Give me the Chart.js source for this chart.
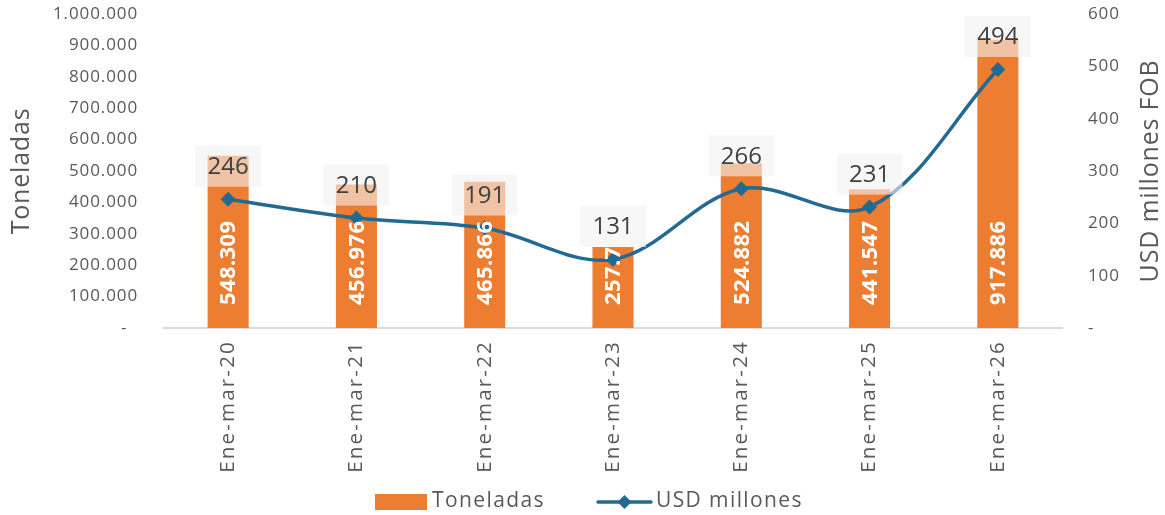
<!DOCTYPE html>
<html lang="es">
<head>
    <meta charset="UTF-8">
    <title>Toneladas y USD millones</title>
    <script src="https://cdn.jsdelivr.net/npm/chart.js"></script>
    <style>
        body { margin: 0; background: #fff; }
        .wrap { position: relative; width: 1165px; height: 515px; }
    </style>
</head>
<body>
    <div class="wrap"><canvas id="chart"></canvas></div>

    <script>
        // data
        const periods = ['Ene-mar-20', 'Ene-mar-21', 'Ene-mar-22', 'Ene-mar-23', 'Ene-mar-24', 'Ene-mar-25', 'Ene-mar-26'];
        const toneladas = [548309, 456976, 465866, 257700, 524882, 441547, 917886];
        const usdMillones = [246, 210, 191, 131, 266, 231, 494];

        const barColor = '#ED7D31';
        const lineColor = '#236A93';
        const textColor = '#595959';
        const fontFamily = '"Open Sans", sans-serif';

        // 548309 -> "548.309"
        function fmt(v) {
            return String(v).replace(/\B(?=(\d{3})+(?!\d))/g, '.');
        }

        // the original font is wider than Open Sans, so labels get a little letter spacing
        function spaceLabels(scale, spacing) {
            if (scale._spaced) return;
            scale._spaced = true;
            const proto = Object.getPrototypeOf(scale);
            scale.drawLabels = function (area) {
                const prev = this.ctx.letterSpacing;
                this.ctx.letterSpacing = spacing;
                proto.drawLabels.call(this, area);
                this.ctx.letterSpacing = prev;
            };
        }

        function rotatedText(ctx, text, x, y, font, spacing) {
            ctx.save();
            ctx.translate(x, y);
            ctx.rotate(-Math.PI / 2);
            ctx.font = font;
            ctx.letterSpacing = spacing;
            ctx.fillStyle = textColor;
            ctx.textAlign = 'center';
            ctx.textBaseline = 'middle';
            ctx.fillText(text, 0, 0);
            ctx.restore();
        }

        const labelPlugin = {
            id: 'labels',
            afterDatasetsDraw(chart) {
                const ctx = chart.ctx;
                const barMeta = chart.getDatasetMeta(0);
                const lineMeta = chart.getDatasetMeta(1);

                // rotated white values inside the bars, clipped to the bar
                barMeta.data.forEach((bar, i) => {
                    const p = bar.getProps(['x', 'y', 'base', 'width'], true);
                    ctx.save();
                    ctx.beginPath();
                    ctx.rect(p.x - p.width / 2, p.y, p.width, p.base - p.y);
                    ctx.clip();
                    ctx.translate(p.x + 1, p.base - 23);
                    ctx.rotate(-Math.PI / 2);
                    ctx.font = 'bold 22px ' + fontFamily;
                    ctx.letterSpacing = '0.4px';
                    ctx.fillStyle = '#fff';
                    ctx.textAlign = 'left';
                    ctx.textBaseline = 'middle';
                    ctx.fillText(fmt(toneladas[i]), 0, 0);
                    ctx.restore();
                });

                // USD labels in light boxes above the points
                lineMeta.data.forEach((pt, i) => {
                    const cy = pt.y - 33;
                    ctx.save();
                    ctx.fillStyle = 'rgba(242,242,242,0.6)';
                    ctx.fillRect(pt.x - 33, cy - 20.5, 66, 41);
                    ctx.fillStyle = '#404040';
                    ctx.font = '24px ' + fontFamily;
                    ctx.textAlign = 'center';
                    ctx.textBaseline = 'middle';
                    ctx.fillText(String(usdMillones[i]), pt.x, cy + 1);
                    ctx.restore();
                });
            },
            afterDraw(chart) {
                const ctx = chart.ctx;
                const area = chart.chartArea;
                const midY = (area.top + area.bottom) / 2;

                // axis titles, both read bottom to top
                rotatedText(ctx, 'Toneladas', 22, midY, '25px ' + fontFamily, '0.8px');
                rotatedText(ctx, 'USD millones FOB', 1151, midY, '25px ' + fontFamily, '0.8px');

                // legend
                ctx.save();
                const ly = 502;
                ctx.font = '21px ' + fontFamily;
                ctx.letterSpacing = '1.4px';
                ctx.textAlign = 'left';
                ctx.textBaseline = 'middle';
                ctx.fillStyle = barColor;
                ctx.fillRect(375, 494, 52, 16);
                ctx.fillStyle = textColor;
                ctx.fillText(chart.data.datasets[0].label, 432, ly - 1);

                ctx.strokeStyle = lineColor;
                ctx.lineWidth = 3.5;
                ctx.lineCap = 'round';
                ctx.beginPath();
                ctx.moveTo(598, ly);
                ctx.lineTo(651, ly);
                ctx.stroke();
                ctx.fillStyle = lineColor;
                ctx.beginPath();
                ctx.moveTo(624.5, ly - 7);
                ctx.lineTo(631.5, ly);
                ctx.lineTo(624.5, ly + 7);
                ctx.lineTo(617.5, ly);
                ctx.closePath();
                ctx.fill();
                ctx.fillStyle = textColor;
                ctx.fillText(chart.data.datasets[1].label, 656, ly - 1);
                ctx.restore();
            }
        };

        new Chart(document.getElementById('chart'), {
            type: 'bar',
            data: {
                labels: periods,
                datasets: [
                    {
                        label: 'Toneladas',
                        data: toneladas,
                        backgroundColor: barColor,
                        categoryPercentage: 1,
                        barPercentage: 0.32,
                        yAxisID: 'y',
                        order: 1
                    },
                    {
                        type: 'line',
                        label: 'USD millones',
                        data: usdMillones,
                        borderColor: lineColor,
                        backgroundColor: lineColor,
                        borderWidth: 3.5,
                        tension: 0.35,
                        pointStyle: 'rectRot',
                        pointRadius: 7.5,
                        pointBorderWidth: 0,
                        yAxisID: 'y1',
                        order: 0
                    }
                ]
            },
            options: {
                responsive: true,
                maintainAspectRatio: false,
                animation: false,
                layout: { padding: { top: 14, bottom: 0, left: 0, right: 0 } },
                plugins: {
                    legend: { display: false },
                    tooltip: { enabled: false }
                },
                scales: {
                    x: {
                        grid: { display: false, drawTicks: false },
                        border: { display: true, color: '#D9D9D9', width: 2 },
                        ticks: {
                            minRotation: 90,
                            maxRotation: 90,
                            padding: 12,
                            color: textColor,
                            font: { family: fontFamily, size: 20.5 }
                        },
                        afterFit(scale) {
                            scale.height = 187;
                            spaceLabels(scale, '2.2px');
                        }
                    },
                    y: {
                        position: 'left',
                        min: 0,
                        max: 1000000,
                        grid: { display: false, drawTicks: false },
                        border: { display: false },
                        ticks: {
                            stepSize: 100000,
                            padding: 26,
                            color: textColor,
                            font: { family: fontFamily, size: 17 },
                            callback: v => v === 0 ? '-\u00a0\u00a0' : fmt(v)
                        },
                        afterFit(scale) {
                            scale.width = 164;
                            scale.paddingTop = 0;
                            scale.paddingBottom = 0;
                            spaceLabels(scale, '0.9px');
                        }
                    },
                    y1: {
                        position: 'right',
                        min: 0,
                        max: 600,
                        grid: { display: false, drawTicks: false },
                        border: { display: false },
                        ticks: {
                            stepSize: 100,
                            padding: 26,
                            color: textColor,
                            font: { family: fontFamily, size: 17 },
                            callback: v => v === 0 ? '-' : String(v)
                        },
                        afterFit(scale) {
                            scale.width = 103;
                            scale.paddingTop = 0;
                            scale.paddingBottom = 0;
                            spaceLabels(scale, '0.9px');
                        }
                    }
                }
            },
            plugins: [labelPlugin]
        });
    </script>
</body>
</html>
